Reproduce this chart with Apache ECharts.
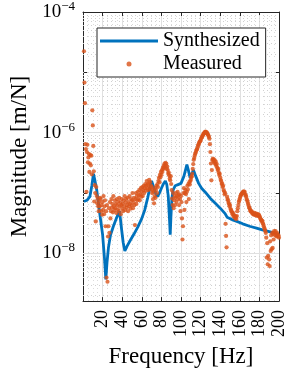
<!DOCTYPE html>
<html><head><meta charset="utf-8">
<script src="https://cdn.jsdelivr.net/npm/echarts@6/dist/echarts.min.js"></script>
<style>html,body{margin:0;padding:0;background:#fff}#main{width:288px;height:373px}</style>
</head><body><div id="main"></div>
<script>
// ---------- data (magnitudes stored as log10 of m/N) ----------
var xTickValues = [20, 40, 60, 80, 100, 120, 140, 160, 180, 200];
var yLabelExponents = [-8, -6, -4];

var synthFreq = [1, 4, 7, 9, 10.7, 12, 14, 16, 18, 20, 22, 23.3, 24.5, 26, 28, 31, 34, 37.3, 39, 41, 42.7, 45, 48, 52, 56, 60, 63, 66, 68, 70, 72, 74, 76, 78, 80, 82, 84, 85.5, 87, 88.3, 89, 89.7, 90.7, 92, 94, 97, 100, 103, 106, 107.5, 109.3, 111, 112.7, 115, 118, 121, 125, 130, 135, 140, 145, 147, 152, 157, 163, 170, 177, 183, 188, 193, 197, 200];
var synthLog10 = [-7.14, -7.12, -7.06, -6.88, -6.68, -6.78, -6.95, -7.2, -7.45, -7.69, -8.1, -8.43, -8.15, -7.9, -7.7, -7.55, -7.42, -7.30, -7.55, -7.82, -7.96, -7.88, -7.79, -7.68, -7.56, -7.42, -7.28, -7.08, -6.93, -6.80, -6.9, -7.0, -7.06, -7.0, -6.92, -6.85, -6.80, -6.86, -7.05, -7.45, -7.69, -7.4, -7.09, -6.95, -6.88, -6.86, -6.84, -6.72, -6.53, -6.62, -6.75, -6.68, -6.62, -6.72, -6.84, -6.92, -6.99, -7.09, -7.17, -7.25, -7.34, -7.40, -7.44, -7.47, -7.51, -7.55, -7.58, -7.61, -7.63, -7.65, -7.67, -7.69];

var measFreq = [
  1,1.5,2,2.5,3,3.5,4,4.5,5,5.5, 6,6.5,7,7.5,8,8.5,9,9.5,10,10.5,
  11,11.5,12,12.5,13,13.5,14,14.5,15,15.5, 16,16.5,17,17.5,18,18.5,19,19.5,20,20.5,
  21,21.5,22,22.5,23,23.5,24,24.5,25,25.5, 26,26.5,27,27.5,28,28.5,29,29.5,30,30.5,
  31,31.5,32,32.5,33,33.5,34,34.5,35,35.5, 36,36.5,37,37.5,38,38.5,39,39.5,40,40.5,
  41,41.5,42,42.5,43,43.5,44,44.5,45,45.5, 46,46.5,47,47.5,48,48.5,49,49.5,50,50.5,
  51,51.5,52,52.5,53,53.5,54,54.5,55,55.5, 56,56.5,57,57.5,58,58.5,59,59.5,60,60.5,
  61,61.5,62,62.5,63,63.5,64,64.5,65,65.5, 66,66.5,67,67.5,68,68.5,69,69.5,70,70.5,
  71,71.5,72,72.5,73,73.5,74,74.5,75,75.5, 76,76.5,77,77.5,78,78.5,79,79.5,80,80.5,
  81,81.5,82,82.5,83,83.5,84,84.5,85,85.5, 86,86.5,87,87.5,88,88.5,89,89.5,90,90.5,
  91,91.5,92,92.5,93,93.5,94,94.5,95,95.5, 96,96.5,97,97.5,98,98.5,99,99.5,100,100.5,
  101,101.5,102,102.5,103,103.5,104,104.5,105,105.5, 106,106.5,107,107.5,108,108.5,109,109.5,110,110.5,
  111,111.5,112,112.5,113,113.5,114,114.5,115,115.5, 116,116.5,117,117.5,118,118.5,119,119.5,120,120.5,
  121,121.5,122,122.5,123,123.5,124,124.5,125,125.5, 126,126.5,127,127.5,128,128.5,129,129.5,130,130.5,
  131,131.5,132,132.5,133,133.5,134,134.5,135,135.5, 136,136.5,137,137.5,138,138.5,139,139.5,140,140.5,
  141,141.5,142,142.5,143,143.5,144,144.5,145,145.5, 146,146.5,147,147.5,148,148.5,149,149.5,150,150.5,
  151,151.5,152,152.5,153,153.5,154,154.5,155,155.5, 156,156.5,157,157.5,158,158.5,159,159.5,160,160.5,
  161,161.5,162,162.5,163,163.5,164,164.5,165,165.5, 166,166.5,167,167.5,168,168.5,169,169.5,170,170.5,
  171,171.5,172,172.5,173,173.5,174,174.5,175,175.5, 176,176.5,177,177.5,178,178.5,179,179.5,180,180.5,
  181,181.5,182,182.5,183,183.5,184,184.5,185,185.5, 186,186.5,187,187.5,188,188.5,189,189.5,190,190.5,
  191,191.5,192,192.5,193,193.5,194,194.5,195,195.5, 196,196.5,197,197.5,198,198.5,199,199.5,200
];
var measLog10 = [
  -4.65,-5.17,-5.51,-6.19,-6.27,-6.98,-6.32,-6.20,-6.49,-6.41, -6.35,-6.65,-6.51,-6.37,-6.54,-6.38,-6.69,-5.63,-5.88,-6.22,
  -6.64,-7.14,-6.87,-7.00,-7.47,-6.90,-7.05,-7.17,-7.10,-7.22, -7.30,-7.15,-7.22,-7.08,-7.10,-7.30,-7.20,-7.36,-7.15,-7.28,
  -7.05,-7.35,-7.22,-7.12,-7.55,-7.30,-8.40,-7.20,-8.47,-7.72, -7.55,-7.25,-7.66,-7.15,-7.42,-7.30,-7.10,-7.24,-7.18,-7.32,
  -7.05,-7.22,-7.28,-7.12,-7.25,-7.18,-7.33,-7.10,-7.20,-7.27, -7.14,-7.30,-7.08,-7.22,-7.16,-7.35,-7.20,-7.10,-7.26,-7.18,
  -7.30,-7.12,-7.22,-7.05,-7.28,-7.16,-7.10,-7.24,-7.20,-7.08, -7.30,-7.15,-7.22,-7.05,-7.18,-7.26,-7.10,-7.20,-7.12,-7.00,
  -7.25,-7.15,-7.08,-7.20,-7.53,-7.10,-7.00,-7.18,-7.05,-7.12, -6.98,-7.10,-7.04,-6.95,-7.12,-7.02,-6.92,-7.06,-6.98,-6.90,
  -7.05,-6.95,-6.88,-7.00,-6.92,-6.85,-6.96,-6.88,-6.80,-6.92, -6.86,-6.95,-6.84,-6.78,-6.90,-6.82,-6.94,-6.88,-6.90,-7.00,
  -6.95,-7.10,-6.98,-7.17,-7.05,-6.92,-7.08,-6.95,-6.88,-7.00, -6.85,-6.90,-6.80,-6.75,-6.82,-6.70,-6.74,-6.65,-6.70,-6.62,
  -6.65,-6.58,-6.60,-6.55,-6.52,-6.58,-6.50,-6.55,-6.51,-6.60, -6.56,-6.62,-6.68,-6.66,-6.71,-6.76,-6.79,-6.72,-6.85,-6.95,
  -7.09,-7.20,-7.00,-7.25,-7.12,-7.05,-7.20,-7.08,-7.00,-7.15, -7.05,-6.98,-7.10,-7.04,-7.20,-7.02,-7.10,-7.30,-7.05,-7.15,
  -7.42,-7.77,-7.55,-7.00,-6.92,-7.28,-7.00,-6.95,-7.02,-7.15, -6.98,-6.88,-6.94,-6.85,-7.10,-6.82,-6.86,-6.80,-6.78,-6.74,
  -6.72,-6.68,-6.60,-6.52,-6.45,-6.42,-6.38,-6.35,-6.33,-6.30, -6.28,-6.27,-6.24,-6.21,-6.19,-6.17,-6.15,-6.14,-6.13,-6.10,
  -6.08,-6.07,-6.05,-6.04,-6.02,-6.01,-6.00,-5.99,-5.98,-5.99, -6.00,-6.00,-6.02,-6.03,-6.05,-6.07,-6.10,-6.19,-6.32,-6.51,
  -6.79,-6.62,-6.45,-6.43,-6.47,-6.44,-6.50,-6.46,-6.52,-6.48, -6.55,-6.52,-6.58,-6.62,-6.60,-6.66,-6.70,-6.68,-6.74,-6.78,
  -6.80,-6.85,-6.84,-6.90,-6.88,-6.95,-6.97,-7.02,-7.00,-7.51, -7.71,-7.90,-7.06,-7.10,-7.12,-7.16,-7.18,-7.22,-7.20,-7.26,
  -7.28,-7.30,-7.32,-7.35,-7.33,-7.38,-7.36,-7.40,-7.38,-7.42, -7.39,-7.43,-7.38,-7.30,-7.25,-7.20,-7.15,-7.12,-7.09,-7.06,
  -7.04,-7.02,-7.01,-7.00,-6.99,-6.98,-6.97,-7.00,-6.98,-7.02, -7.04,-7.06,-7.10,-7.12,-7.15,-7.18,-7.21,-7.24,-7.25,-7.28,
  -7.30,-7.31,-7.30,-7.33,-7.32,-7.35,-7.34,-7.36,-7.33,-7.36, -7.35,-7.37,-7.34,-7.36,-7.38,-7.35,-7.37,-7.36,-7.38,-7.40,
  -7.42,-7.44,-7.45,-7.47,-7.46,-7.50,-7.52,-7.55,-7.58,-7.60, -7.63,-7.66,-7.74,-8.07,-7.83,-8.18,-8.04,-8.80,-8.10,-8.21,
  -7.80,-7.96,-7.70,-7.93,-7.66,-7.91,-7.68,-7.77,-7.63,-7.66, -7.70,-7.63,-7.68,-7.72,-7.66,-7.69,-7.72,-7.70,-7.74
];

// ---------- chart ----------
var FONT = 'Liberation Serif';
var AX = '#262626';
var X_MIN = 0, X_MAX = 200;
var Y_MIN = 1.62e-9, Y_MAX = 1e-4;

var synthData = synthFreq.map(function (f, i) { return [f, Math.pow(10, synthLog10[i])]; });
var measData = measFreq.map(function (f, i) { return [f, Math.pow(10, measLog10[i])]; });

// log-axis grid lines (MATLAB style: solid at labelled decades, dotted minor)
var majorGrid = [], minorGrid = [];
for (var n = -9; n <= -5; n++) {
  for (var k = 1; k <= 9; k++) {
    var v = k * Math.pow(10, n);
    if (v <= Y_MIN || v >= Y_MAX) continue;
    var item = { coords: [[X_MIN, v], [X_MAX, v]] };
    if (k === 1 && yLabelExponents.indexOf(n) >= 0) majorGrid.push(item); else minorGrid.push(item);
  }
}

function yLabel(value) {
  var e = Math.log10(value);
  var r = Math.round(e);
  if (Math.abs(e - r) > 1e-6 || yLabelExponents.indexOf(r) < 0) return '';
  return '{b|10}{s|\u2212' + Math.abs(r) + '}';
}
function xLabel(value) {
  return xTickValues.indexOf(value) >= 0 ? String(value) : '';
}

var option = {
  animation: false,
  backgroundColor: '#fff',
  grid: { left: 80, right: 8, top: 11.5, bottom: 69, containLabel: false },
  legend: {
    orient: 'vertical', left: 97, top: 28,
    data: [
      { name: 'Synthesized', icon: 'path://M0,0L60,0L60,3L0,3Z' },
      { name: 'Measured', icon: 'circle' }
    ],
    itemWidth: 58, itemHeight: 5, itemGap: 3,
    padding: [3, 6, 3, 3],
    backgroundColor: '#fff', borderColor: AX, borderWidth: 1, borderRadius: 0,
    textStyle: { fontFamily: FONT, fontSize: 20, color: '#000' },
    selectedMode: false
  },
  xAxis: [{
    type: 'value', min: X_MIN, max: X_MAX, interval: 20, position: 'bottom',
    name: 'Frequency [Hz]', nameLocation: 'middle', nameGap: 42,
    nameTextStyle: { fontFamily: FONT, fontSize: 23, color: '#000' },
    axisLine: { show: true, onZero: false, lineStyle: { color: AX, width: 1 } },
    axisTick: { show: true, inside: true, length: 4, lineStyle: { color: AX } },
    axisLabel: { rotate: 90, margin: 9, showMinLabel: false, fontFamily: FONT, fontSize: 18, color: '#000', formatter: xLabel },
    splitLine: { show: true, lineStyle: { color: '#e0e0e0', width: 1 } },
    minorTick: { show: false, splitNumber: 4 },
    minorSplitLine: { show: true, lineStyle: { color: '#dcdcdc', type: [1, 3], width: 1 } }
  }, {
    type: 'value', min: X_MIN, max: X_MAX, interval: 20, position: 'top',
    axisLine: { show: true, onZero: false, lineStyle: { color: AX, width: 1 } },
    axisTick: { show: true, inside: true, length: 4, lineStyle: { color: AX } },
    axisLabel: { show: false }, splitLine: { show: false }
  }],
  yAxis: [{
    type: 'log', logBase: 10, min: Y_MIN, max: Y_MAX, position: 'left',
    name: 'Magnitude [m/N]', nameLocation: 'middle', nameGap: 52,
    nameTextStyle: { fontFamily: FONT, fontSize: 23, color: '#000' },
    axisLine: { show: true, onZero: false, lineStyle: { color: AX, width: 1 } },
    axisTick: { show: true, inside: true, length: 4, lineStyle: { color: AX } },
    axisLabel: { margin: 8, formatter: yLabel, showMinLabel: false,
      rich: {
        b: { fontFamily: FONT, fontSize: 19, color: '#000', lineHeight: 24 },
        s: { fontFamily: FONT, fontSize: 13, color: '#000', verticalAlign: 'top', lineHeight: 14 }
      } },
    splitLine: { show: false }
  }, {
    type: 'log', logBase: 10, min: Y_MIN, max: Y_MAX, position: 'right',
    axisLine: { show: true, onZero: false, lineStyle: { color: AX, width: 1 } },
    axisTick: { show: true, inside: true, length: 4, lineStyle: { color: AX } },
    axisLabel: { show: false }, splitLine: { show: false }
  }],
  series: [{
    name: 'minorGridY', type: 'lines', coordinateSystem: 'cartesian2d', silent: true, z: 1,
    data: minorGrid, lineStyle: { color: '#d0d0d0', type: [1, 3], width: 1, opacity: 1 }
  }, {
    name: 'majorGridY', type: 'lines', coordinateSystem: 'cartesian2d', silent: true, z: 1,
    data: majorGrid, lineStyle: { color: '#e0e0e0', type: 'solid', width: 1, opacity: 1 }
  }, {
    name: 'Synthesized', type: 'line', data: synthData, symbol: 'none', showSymbol: false,
    lineStyle: { color: '#0072BD', width: 2.8 }, itemStyle: { color: '#0072BD' }, z: 3
  }, {
    name: 'Measured', type: 'scatter', data: measData, symbol: 'circle', symbolSize: 4.2,
    itemStyle: { color: '#D95319' }, z: 4
  }]
};
var myChart = echarts.init(document.getElementById('main'));
myChart.setOption(option);
</script>
</body></html>
